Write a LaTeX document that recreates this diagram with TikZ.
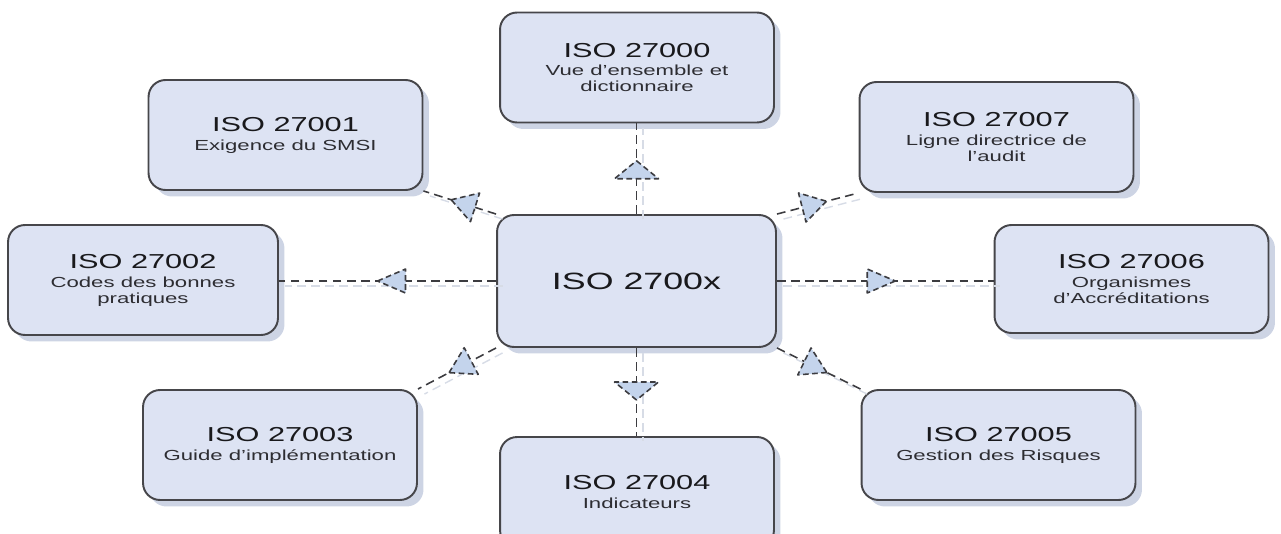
\documentclass[tikz,border=0pt]{standalone}
\usepackage{fontspec}
\setmainfont{Liberation Sans}[FakeStretch=1.52]
\usetikzlibrary{shadows,decorations.markings}
\definecolor{boxfill}{RGB}{221,227,243}
\definecolor{boxline}{RGB}{70,70,74}
\definecolor{shcol}{RGB}{205,212,228}
\definecolor{shline}{RGB}{215,220,230}
\definecolor{linecol}{RGB}{60,60,64}
\definecolor{arrfill}{RGB}{196,212,236}
\definecolor{arrsh}{RGB}{218,226,240}
\definecolor{txtA}{RGB}{25,25,28}
\definecolor{txtB}{RGB}{45,45,50}
\newcommand{\isottl}{\fontsize{11.5}{13}\selectfont\color{txtA}}
\newcommand{\isosub}{\fontsize{8.3}{9.1}\selectfont\color{txtB}}
\newcommand{\isoctr}{\fontsize{13.4}{15}\selectfont\color{txtA}}
\tikzset{
  isobox/.style={draw=boxline, line width=1.1pt, fill=boxfill, rounded corners=0.34cm,
    minimum width=5.48cm, minimum height=2.2cm, inner sep=0pt, align=center,
    font=\isosub,
    drop shadow={shadow xshift=0.13cm, shadow yshift=-0.13cm, fill=shcol, opacity=1}},
  conn/.style n args={3}{
    preaction={draw=shline, line width=0.8pt, dash pattern=on 5pt off 3pt,
      transform canvas={shift={(0.13cm,-0.1cm)}}},
    preaction={transform canvas={shift={(0.13cm,-0.1cm)}}, decorate,
      decoration={markings, mark=at position 0.5 with {
        \fill[arrsh] (#3,0) -- ({#3-#1},#2) -- ({#3-#1},-#2) -- cycle;}}},
    draw=linecol, line width=0.9pt, dash pattern=on 5pt off 3pt,
    postaction={decorate,
      decoration={markings, mark=at position 0.5 with {
        \fill[arrfill] (#3,0) -- ({#3-#1},#2) -- ({#3-#1},-#2) -- cycle;
        \draw[linecol, line width=0.9pt, dash pattern=on 3.2pt off 2pt, line join=round]
          (#3,0) -- ({#3-#1},#2) -- ({#3-#1},-#2) -- cycle;}}}
  }
}
\begin{document}
\begin{tikzpicture}[x=0.02cm, y=-0.02cm]
\useasboundingbox (0,0) rectangle (1281,534);
\node[isobox, minimum width=5.58cm, minimum height=2.64cm, font=\isoctr] (c) at (636.5,281) {ISO 2700x};
\node[isobox] (n0) at (637,67.5) {{\isottl ISO 27000}\\[1.7pt]Vue d'ensemble et\\dictionnaire};
\node[isobox] (n1) at (285.5,135) {{\isottl ISO 27001}\\[1.7pt]Exigence du SMSI};
\node[isobox] (n7) at (996.5,137) {{\isottl ISO 27007}\\[1.7pt]Ligne directrice de\\l'audit};
\node[isobox, minimum width=5.4cm] (n2) at (143,280) {{\isottl ISO 27002}\\[1.7pt]Codes des bonnes\\pratiques};
\node[isobox, minimum height=2.16cm] (n6) at (1131.5,279) {{\isottl ISO 27006}\\[1.7pt]Organismes\\d'Accréditations};
\node[isobox] (n3) at (280,445) {{\isottl ISO 27003}\\[1.7pt]Guide d'implémentation};
\node[isobox] (n4) at (637,492) {{\isottl ISO 27004}\\[1.7pt]Indicateurs};
\node[isobox] (n5) at (998.5,445) {{\isottl ISO 27005}\\[1.7pt]Gestion des Risques};
\draw[conn={18}{22}{8}] (c.north) -- (c.north |- n0.south);
\draw[conn={18}{22}{8}] (c.south) -- (c.south |- n4.north);
\draw[conn={28}{12}{10}] (c.west) -- (c.west -| n2.east);
\draw[conn={28}{12}{10}] (c.east) -- (c.east -| n6.west);
\draw[conn={25}{15}{9}] (c.north west) -- (n1.south east);
\draw[conn={25}{15}{9}] (c.north east) -- (n7.south west);
\draw[conn={25}{15}{9}] (c.south west) -- (n3.north east);
\draw[conn={25}{15}{9}] (c.south east) -- (n5.north west);
\end{tikzpicture}
\end{document}
